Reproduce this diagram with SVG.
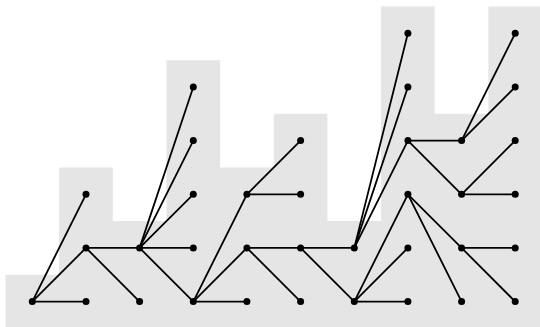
<svg xmlns="http://www.w3.org/2000/svg" width="540" height="327" viewBox="0 0 540 327">
<style>
.bg{fill:#e5e5e5;stroke:none}
.e{stroke:#000;stroke-width:1.8;fill:none;stroke-linecap:round}
.n{fill:#000}
</style>
<path class="bg" d="M5.5,327 V274.8 H59.1 V167.5 H112.8 V221.1 H166.5 V60.2 H220.1 V167.5 H273.8 V113.8 H327.4 V221.1 H381.1 V6.5 H434.7 V113.8 H488.4 V6.5 H542 V327 Z"/>
<g id="connectors">
<line class="e" x1="32.3" y1="301.6" x2="86" y2="301.6"/>
<line class="e" x1="32.3" y1="301.6" x2="86" y2="247.9"/>
<line class="e" x1="32.3" y1="301.6" x2="86" y2="194.3"/>
<line class="e" x1="86" y1="247.9" x2="139.6" y2="247.9"/>
<line class="e" x1="86" y1="247.9" x2="139.6" y2="301.6"/>
<line class="e" x1="139.6" y1="247.9" x2="193.3" y2="247.9"/>
<line class="e" x1="139.6" y1="247.9" x2="193.3" y2="194.3"/>
<line class="e" x1="139.6" y1="247.9" x2="193.3" y2="140.6"/>
<line class="e" x1="139.6" y1="247.9" x2="193.3" y2="87"/>
<line class="e" x1="139.6" y1="247.9" x2="193.3" y2="301.6"/>
<line class="e" x1="193.3" y1="301.6" x2="246.9" y2="301.6"/>
<line class="e" x1="193.3" y1="301.6" x2="246.9" y2="247.9"/>
<line class="e" x1="193.3" y1="301.6" x2="246.9" y2="194.3"/>
<line class="e" x1="246.9" y1="194.3" x2="300.6" y2="194.3"/>
<line class="e" x1="246.9" y1="194.3" x2="300.6" y2="140.6"/>
<line class="e" x1="246.9" y1="247.9" x2="300.6" y2="247.9"/>
<line class="e" x1="246.9" y1="247.9" x2="300.6" y2="301.6"/>
<line class="e" x1="300.6" y1="247.9" x2="354.3" y2="247.9"/>
<line class="e" x1="300.6" y1="247.9" x2="354.3" y2="301.6"/>
<line class="e" x1="354.3" y1="247.9" x2="407.9" y2="33.3"/>
<line class="e" x1="354.3" y1="247.9" x2="407.9" y2="87"/>
<line class="e" x1="354.3" y1="247.9" x2="407.9" y2="140.6"/>
<line class="e" x1="354.3" y1="301.6" x2="407.9" y2="301.6"/>
<line class="e" x1="354.3" y1="301.6" x2="407.9" y2="247.9"/>
<line class="e" x1="354.3" y1="301.6" x2="407.9" y2="194.3"/>
<line class="e" x1="407.9" y1="140.6" x2="461.6" y2="140.6"/>
<line class="e" x1="407.9" y1="140.6" x2="461.6" y2="194.3"/>
<line class="e" x1="461.6" y1="140.6" x2="515.2" y2="33.3"/>
<line class="e" x1="461.6" y1="140.6" x2="515.2" y2="87"/>
<line class="e" x1="461.6" y1="194.3" x2="515.2" y2="140.6"/>
<line class="e" x1="461.6" y1="194.3" x2="515.2" y2="194.3"/>
<line class="e" x1="407.9" y1="194.3" x2="461.6" y2="247.9"/>
<line class="e" x1="407.9" y1="194.3" x2="461.6" y2="301.6"/>
<line class="e" x1="461.6" y1="247.9" x2="515.2" y2="247.9"/>
<line class="e" x1="461.6" y1="247.9" x2="515.2" y2="301.6"/>
</g>
<g id="n0_0"><circle class="n" cx="32.3" cy="301.6" r="3.5"/></g>
<g id="n1_0"><circle class="n" cx="86" cy="301.6" r="3.5"/></g>
<g id="n1_1"><circle class="n" cx="86" cy="247.9" r="3.5"/></g>
<g id="n1_2"><circle class="n" cx="86" cy="194.3" r="3.5"/></g>
<g id="n2_0"><circle class="n" cx="139.6" cy="301.6" r="3.5"/></g>
<g id="n2_1"><circle class="n" cx="139.6" cy="247.9" r="3.5"/></g>
<g id="n3_0"><circle class="n" cx="193.3" cy="301.6" r="3.5"/></g>
<g id="n3_1"><circle class="n" cx="193.3" cy="247.9" r="3.5"/></g>
<g id="n3_2"><circle class="n" cx="193.3" cy="194.3" r="3.5"/></g>
<g id="n3_3"><circle class="n" cx="193.3" cy="140.6" r="3.5"/></g>
<g id="n3_4"><circle class="n" cx="193.3" cy="87" r="3.5"/></g>
<g id="n4_0"><circle class="n" cx="246.9" cy="301.6" r="3.5"/></g>
<g id="n4_1"><circle class="n" cx="246.9" cy="247.9" r="3.5"/></g>
<g id="n4_2"><circle class="n" cx="246.9" cy="194.3" r="3.5"/></g>
<g id="n5_0"><circle class="n" cx="300.6" cy="301.6" r="3.5"/></g>
<g id="n5_1"><circle class="n" cx="300.6" cy="247.9" r="3.5"/></g>
<g id="n5_2"><circle class="n" cx="300.6" cy="194.3" r="3.5"/></g>
<g id="n5_3"><circle class="n" cx="300.6" cy="140.6" r="3.5"/></g>
<g id="n6_0"><circle class="n" cx="354.3" cy="301.6" r="3.5"/></g>
<g id="n6_1"><circle class="n" cx="354.3" cy="247.9" r="3.5"/></g>
<g id="n7_0"><circle class="n" cx="407.9" cy="301.6" r="3.5"/></g>
<g id="n7_1"><circle class="n" cx="407.9" cy="247.9" r="3.5"/></g>
<g id="n7_2"><circle class="n" cx="407.9" cy="194.3" r="3.5"/></g>
<g id="n7_3"><circle class="n" cx="407.9" cy="140.6" r="3.5"/></g>
<g id="n7_4"><circle class="n" cx="407.9" cy="87" r="3.5"/></g>
<g id="n7_5"><circle class="n" cx="407.9" cy="33.3" r="3.5"/></g>
<g id="n8_0"><circle class="n" cx="461.6" cy="301.6" r="3.5"/></g>
<g id="n8_1"><circle class="n" cx="461.6" cy="247.9" r="3.5"/></g>
<g id="n8_2"><circle class="n" cx="461.6" cy="194.3" r="3.5"/></g>
<g id="n8_3"><circle class="n" cx="461.6" cy="140.6" r="3.5"/></g>
<g id="n9_0"><circle class="n" cx="515.2" cy="301.6" r="3.5"/></g>
<g id="n9_1"><circle class="n" cx="515.2" cy="247.9" r="3.5"/></g>
<g id="n9_2"><circle class="n" cx="515.2" cy="194.3" r="3.5"/></g>
<g id="n9_3"><circle class="n" cx="515.2" cy="140.6" r="3.5"/></g>
<g id="n9_4"><circle class="n" cx="515.2" cy="87" r="3.5"/></g>
<g id="n9_5"><circle class="n" cx="515.2" cy="33.3" r="3.5"/></g>
</svg>
